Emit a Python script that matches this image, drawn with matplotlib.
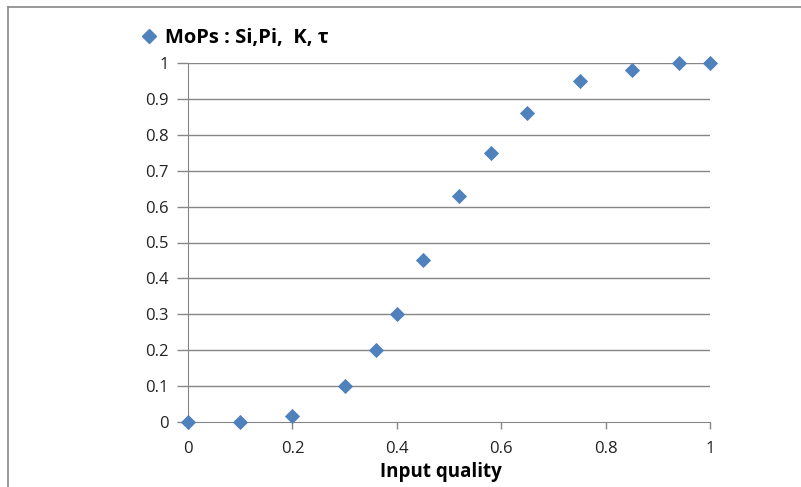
import matplotlib
matplotlib.use("Agg")
import matplotlib.pyplot as plt
from matplotlib.lines import Line2D

input_quality = [0.0, 0.1, 0.2, 0.3, 0.36, 0.40, 0.45, 0.52, 0.58, 0.65, 0.75, 0.85, 0.94, 1.0]
mops_values = [0.0, 0.0, 0.017, 0.10, 0.20, 0.30, 0.45, 0.63, 0.75, 0.86, 0.95, 0.98, 1.0, 1.0]
x_ticks = [0, 0.2, 0.4, 0.6, 0.8, 1]
x_tick_labels = ["0", "0.2", "0.4", "0.6", "0.8", "1"]
y_ticks = [0, 0.1, 0.2, 0.3, 0.4, 0.5, 0.6, 0.7, 0.8, 0.9, 1]
y_tick_labels = ["0", "0.1", "0.2", "0.3", "0.4", "0.5", "0.6", "0.7", "0.8", "0.9", "1"]
series_label = "MoPs : Si,Pi,  K, τ"
x_label = "Input quality"

plt.rcParams['font.family'] = ['Open Sans', 'DejaVu Sans']

W, H = 801, 487
fig = plt.figure(figsize=(W / 100, H / 100), dpi=100)
ax = fig.add_axes([188 / W, 1 - 422 / H, (710 - 188) / W, (422 - 63) / H])

marker_color = "#4f81bd"
grid_color = "#868686"

ax.set_xlim(0, 1)
ax.set_ylim(0, 1)
ax.scatter(input_quality, mops_values, marker="D", s=60, color=marker_color,
           zorder=5, clip_on=False, linewidths=0)

ax.set_yticks(y_ticks)
ax.set_yticklabels(y_tick_labels)
ax.set_xticks(x_ticks)
ax.set_xticklabels(x_tick_labels)
for yv in y_ticks[1:]:
    ax.axhline(yv, color=grid_color, lw=1, zorder=1)

for s in ["top", "right"]:
    ax.spines[s].set_visible(False)
ax.spines["left"].set_color(grid_color)
ax.spines["bottom"].set_color(grid_color)
ax.tick_params(axis="y", length=8, color=grid_color, width=1, labelsize=12, pad=6, labelcolor="#222222")
ax.tick_params(axis="x", length=5, color=grid_color, width=1, labelsize=12, pad=9, labelcolor="#222222")
ax.set_xlabel(x_label, fontsize=13.5, fontweight="bold", labelpad=3)
ax.xaxis.label.set_x(0.485)

# legend
handle = Line2D([], [], marker="D", color=marker_color, linestyle="none", markersize=7.5)
fig.legend([handle], [series_label], loc="center left",
           bbox_to_anchor=(139 / W, 1 - 38 / H), frameon=False,
           prop={"size": 14.5, "weight": "bold"}, handlelength=1.0,
           handletextpad=0.3, borderaxespad=0, borderpad=0)

# outer frame (top & left visible)
fig.add_artist(Line2D([8 / W, 8 / W], [0, 1 - 7 / H], color="#888888", lw=1.2, transform=fig.transFigure))
fig.add_artist(Line2D([8 / W, 1], [1 - 7 / H, 1 - 7 / H], color="#888888", lw=1.2, transform=fig.transFigure))

fig.savefig("out.png", dpi=100)
